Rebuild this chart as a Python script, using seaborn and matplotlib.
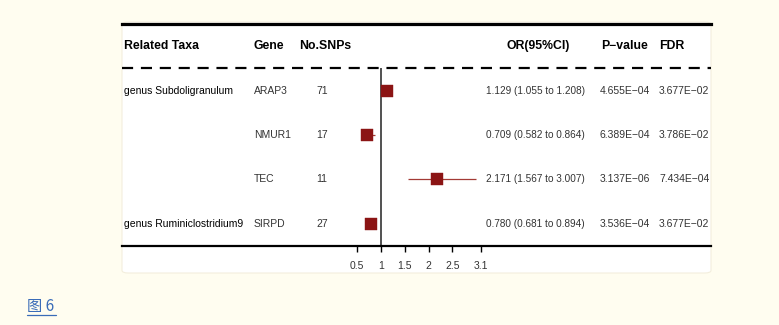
import numpy as np
import pandas as pd
import matplotlib
matplotlib.use("Agg")
import matplotlib.pyplot as plt
import matplotlib.transforms as mtransforms
from matplotlib.patches import FancyBboxPatch
import seaborn as sns

# Data for the forest plot
taxa = ["genus Subdoligranulum", "", "", "genus Ruminiclostridium9"]
genes = ["ARAP3", "NMUR1", "TEC", "SIRPD"]
n_snps = [71, 17, 11, 27]
odds_ratio = [1.129, 0.709, 2.171, 0.780]
ci_low = [1.055, 0.582, 1.567, 0.681]
ci_high = [1.208, 0.864, 3.007, 0.894]
p_values = ["4.655E\u221204", "6.389E\u221204", "3.137E\u221206", "3.536E\u221204"]
fdr = ["3.677E\u221202", "3.786E\u221202", "7.434E\u221204", "3.677E\u221202"]
headers = ["Related Taxa", "Gene", "No.SNPs", "OR(95%CI)", "P\u2212value", "FDR"]
x_ticks = [0.5, 1, 1.5, 2, 2.5, 3.1]

df = pd.DataFrame({"gene": genes, "row": np.arange(1, len(genes) + 1),
                   "OR": odds_ratio, "lo": ci_low, "hi": ci_high})

sns.set_theme(style="white")
plt.rcParams["font.family"] = ["Liberation Sans", "DejaVu Sans"]

W, H = 779, 325
bg = "#FFFDF0"
fig = plt.figure(figsize=(W / 100, H / 100), dpi=100, facecolor=bg)

# white card behind the table
card = FancyBboxPatch((122 / W, 1 - 273 / H), (711 - 122) / W, (273 - 22) / H,
                      boxstyle="round,pad=0,rounding_size=0.008",
                      transform=fig.transFigure, facecolor="white",
                      edgecolor="#F3EEDD", linewidth=0.8, zorder=-5)
fig.patches.append(card)

# axes spans the card width; x scale: 1 -> 381px, 47.5 px per unit
left_px, right_px, top_px, bot_px = 122, 711, 24, 246
px_per_unit, x_one = 47.5, 381
xlim = (1 + (left_px - x_one) / px_per_unit, 1 + (right_px - x_one) / px_per_unit)
ax = fig.add_axes([left_px / W, 1 - bot_px / H,
                   (right_px - left_px) / W, (bot_px - top_px) / H])
ax.set_zorder(2)
ax.set_facecolor("none")
ax.patch.set_alpha(0)

# confidence intervals and point estimates
ax.hlines(df["row"], df["lo"], df["hi"], color="#A33A35", lw=0.9, zorder=2)
sns.scatterplot(data=df, x="OR", y="row", marker="s", s=66, color="#8B1414",
                edgecolor="#8B1414", linewidth=0.3, ax=ax, zorder=3, legend=False)

ax.set_xlim(*xlim)
ax.set_ylim(4.5, -0.5)
ax.set_xlabel("")
ax.set_ylabel("")

for s in ["left", "right"]:
    ax.spines[s].set_visible(False)
ax.spines["top"].set_linewidth(2.3)
ax.spines["top"].set_color("black")
ax.spines["bottom"].set_linewidth(1.6)
ax.spines["bottom"].set_color("black")

ax.set_xticks(x_ticks)
ax.set_xticklabels([f"{t:g}" for t in x_ticks], fontsize=7.5, color="#333333")
ax.tick_params(axis="x", direction="out", length=4.5, width=1, color="black",
               pad=6, bottom=True)
ax.set_yticks([])

# dashed separator under header and reference line at OR = 1
ax.plot(xlim, [0.5, 0.5], color="black", lw=1.6, ls=(0, (5, 3.5)),
        clip_on=False)
ax.vlines(1, 0.5, 4.5, color="#222222", lw=1.1)

# table text columns, x given in figure pixels
tr = mtransforms.blended_transform_factory(fig.transFigure, ax.transData)
hdr_kw = dict(fontsize=8.8, fontweight="bold", color="black", va="center",
              transform=tr)
ax.text(124 / W, 0, headers[0], ha="left", **hdr_kw)
ax.text(254 / W, 0, headers[1], ha="left", **hdr_kw)
ax.text(299 / W, 0, headers[2], ha="left", **hdr_kw)
ax.text(538 / W, 0, headers[3], ha="center", **hdr_kw)
ax.text(601 / W, 0, headers[4], ha="left", **hdr_kw)
ax.text(659 / W, 0, headers[5], ha="left", **hdr_kw)

body_kw = dict(fontsize=7.5, color="#333333", va="center", transform=tr)
for i in range(len(genes)):
    y = i + 1
    if taxa[i]:
        ax.text(124 / W, y, taxa[i], ha="left", fontsize=7.5, color="black",
                va="center", transform=tr)
    ax.text(254 / W, y, genes[i], ha="left", **body_kw)
    ax.text(322 / W, y, str(n_snps[i]), ha="center", **body_kw)
    ax.text(535 / W, y,
            f"{odds_ratio[i]:.3f} ({ci_low[i]:.3f} to {ci_high[i]:.3f})",
            ha="center", fontsize=7.2, color="#333333", va="center",
            transform=tr)
    ax.text(600 / W, y, p_values[i], ha="left", **body_kw)
    ax.text(659 / W, y, fdr[i], ha="left", **body_kw)

# figure caption link
fig.text(27 / W, 1 - 307 / H, "图 6", fontsize=11, color="#3A6CB8",
         ha="left", va="center",
         family=["Noto Sans CJK SC", "DejaVu Sans"])
fig.add_artist(plt.Line2D([27 / W, 56 / W], [1 - 315 / H, 1 - 315 / H],
                          transform=fig.transFigure, color="#3A6CB8", lw=0.9))

fig.savefig("out.png", dpi=100, facecolor=bg)
